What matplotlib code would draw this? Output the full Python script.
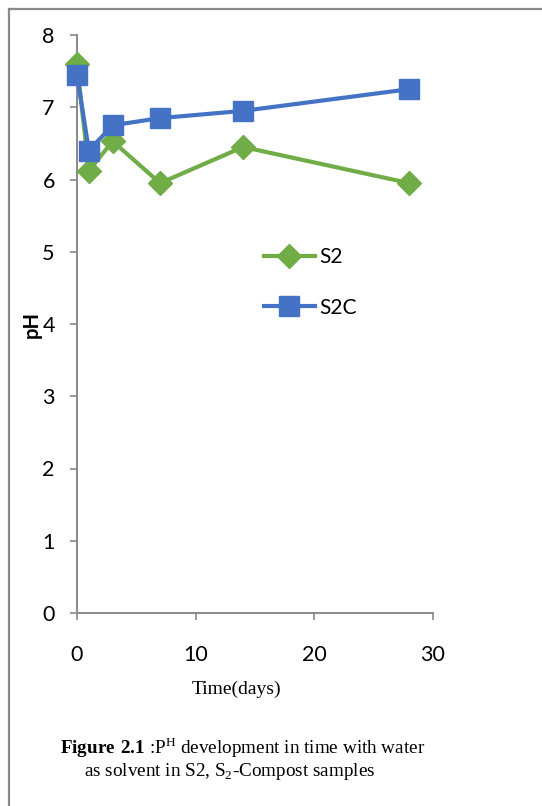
import matplotlib
matplotlib.use("Agg")
import matplotlib.pyplot as plt
from matplotlib.lines import Line2D

plt.rcParams['mathtext.fontset'] = 'custom'
plt.rcParams['mathtext.rm'] = 'Liberation Serif'
plt.rcParams['mathtext.bf'] = 'Liberation Serif:bold'

# sampling days and pH readings
days = [0, 1, 3, 7, 14, 28]
ph_s2 = [7.6, 6.12, 6.53, 5.95, 6.45, 5.95]
ph_s2c = [7.45, 6.4, 6.75, 6.85, 6.95, 7.25]

xticks = [0, 10, 20, 30]
yticks = [0, 1, 2, 3, 4, 5, 6, 7, 8]

green = "#70AD47"
blue = "#4472C4"
grey = "#898989"
tickfont = "Lato"

fig = plt.figure(figsize=(5.42, 8.06), dpi=100)
ax = fig.add_axes([77/542, 193/806, 356/542, 578/806])

ax.plot(days, ph_s2, color=green, lw=3, marker="D", ms=12, label="S2")
ax.plot(days, ph_s2c, color=blue, lw=3, marker="s", ms=14, label="S2C")

ax.set_xlim(0, 30)
ax.set_ylim(0, 8)
ax.set_xticks(xticks)
ax.set_yticks(yticks)
for s in ["top", "right"]:
    ax.spines[s].set_visible(False)
for s in ["left", "bottom"]:
    ax.spines[s].set_color(grey)
    ax.spines[s].set_linewidth(1.4)
    ax.spines[s].set_zorder(0)
ax.tick_params(axis="both", colors=grey, length=5, width=1.2, labelcolor="black",
               labelsize=15.5)
ax.tick_params(axis="y", pad=11)
ax.tick_params(axis="x", pad=18)
for lab in ax.get_xticklabels() + ax.get_yticklabels():
    lab.set_fontfamily(tickfont)
for ln in ax.lines:
    ln.set_clip_on(False)

ax.text(-0.128, 0.5, "pH", transform=ax.transAxes, rotation=90, ha="center",
        va="center", fontsize=14.5, fontweight="bold", family=tickfont)

ax.legend(loc="upper left", bbox_to_anchor=(0.472, 0.665), frameon=False,
          handlelength=2.45, labelspacing=1.45, handletextpad=0.2,
          prop={"family": tickfont, "size": 15})

fig.text(236/542, 1 - 689/806, "Time(days)", ha="center", va="center",
         family="Liberation Serif", fontsize=14)
fig.text(60/542, 1 - 748/806,
         r"$\mathbf{Figure\ 2.1}$ :P$^{\mathrm{H}}$ development in time with water",
         ha="left", va="center", family="Liberation Serif", fontsize=13.8)
fig.text(84/542, 1 - 772/806,
         r"as solvent in S2, S$_{\mathrm{2}}$-Compost samples",
         ha="left", va="center", family="Liberation Serif", fontsize=13.8)

# page frame
fig.add_artist(Line2D([9/542, 9/542], [0, 1 - 9/806], transform=fig.transFigure,
                      color=grey, lw=1.6))
fig.add_artist(Line2D([9/542, 1], [1 - 9/806, 1 - 9/806], transform=fig.transFigure,
                      color=grey, lw=1.6))

fig.savefig("out.png", dpi=100)
